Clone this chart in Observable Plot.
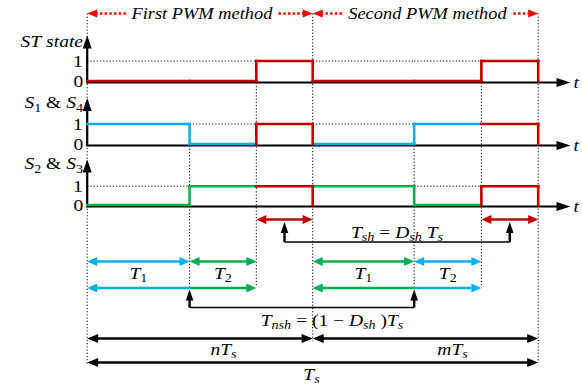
<!DOCTYPE html>
<html><head><meta charset="utf-8">
<script src="https://cdn.jsdelivr.net/npm/d3@7"></script>
<script src="https://cdn.jsdelivr.net/npm/@observablehq/plot@0.6"></script>
<style>html,body{margin:0;padding:0;background:#fff;}</style>
</head><body><div id="chart"></div>
<script>
// ---------------- data ----------------
// switching instants, as a fraction of the switching period Ts
const times = [0, 0.227, 0.375, 0.5, 0.725, 0.874, 1];
const methodLabels = ["First PWM method", "Second PWM method"];
const methodFrom = [0, 3];          // indexes into times
const methodTo = [3, 6];
const panelLabels = ["ST state", "S_{1} & S_{4}", "S_{2} & S_{3}"];
const levelLabels = ["0", "1"];
// per-interval logic level and which switching state owns the interval
const stLevels = [0, 0, 1, 0, 0, 1];
const stOwners = ["st", "st", "st", "st", "st", "st"];
const s14Levels = [1, 0, 1, 0, 1, 1];
const s14Owners = ["s14", "s14", "st", "s14", "s14", "st"];
const s23Levels = [0, 1, 1, 1, 0, 1];
const s23Owners = ["s23", "s23", "st", "s23", "s23", "st"];
const pulseIntervals = [2, 5];      // shoot-through intervals (index of start)
const shLabel = "T_{sh} = D_{sh} T_{s}";
const durationLabels = ["T_{1}", "T_{2}", "T_{1}", "T_{2}"];
const durationFrom = [0, 1, 3, 4];
const durationOwners = ["s14", "s23", "s23", "s14"];
const nshLabel = "T_{nsh} = (1 − D_{sh} )T_{s}";
const nshFrom = 1, nshTo = 4;
const periodLabels = ["nT_{s}", "mT_{s}"];
const periodFrom = [0, 3];
const periodTo = [3, 6];
const totalLabel = "T_{s}";
const axisLabel = "t";

// ---------------- layout / style ----------------
const W = 582, H = 387;
const X0 = 86.7, KX = 451;
const t = px => (px - X0) / KX;
const dx = px => px / KX;
const RED = "#c00000", BLUE = "#00b0f0", GREEN = "#00b050", HRED = "#ff0000";
const palette = {st: RED, s14: BLUE, s23: GREEN};
const FONT = 17;
const SERIF = "Liberation Serif";
const L = {
  header: 13,
  baselines: [82, 145, 206],
  highs: [60.5, 123.5, 185.7],
  axisTop: [35, 97.5, 159],
  labelBase: [46.5, 107.5, 168.5],
  axisEnd: t(570),
  tsh: 219, shBracket: 241.5, shText: 237, shTextX: t(396.5),
  row1: 261, rowText: 278, row2: 287.5, nshBracket: 307, nshText: 325, nshTextX: t(331.5),
  nTs: 338, nTsText: 354, periodTextX: [t(223), t(452)],
  Ts: 362, TsText: 379, TsTextX: t(311)
};

const signals = [
  {levels: stLevels, owners: stOwners},
  {levels: s14Levels, owners: s14Owners},
  {levels: s23Levels, owners: s23Owners}
];

// ---------------- geometry built from data ----------------
const sig = [];      // signal segments
const dots = [];     // dotted guides
signals.forEach((s, p) => {
  const base = L.baselines[p], hi = L.highs[p];
  const yl = v => v ? hi : base - 1.5;
  const n = s.levels.length;
  s.levels.forEach((v, i) => {
    sig.push({x1: times[i], x2: times[i + 1], y1: yl(v), y2: yl(v), c: palette[s.owners[i]]});
    if (v === 0) dots.push({x1: times[i], x2: times[i + 1], y1: hi, y2: hi});
    if (i > 0) {
      const vp = s.levels[i - 1], op = s.owners[i - 1], o = s.owners[i];
      if (op === "st" && o !== "st" && vp === 1)
        sig.push({x1: times[i], x2: times[i], y1: yl(1), y2: yl(0), c: RED});
      else if (v !== vp)
        sig.push({x1: times[i], x2: times[i], y1: yl(vp), y2: yl(v), c: palette[o]});
    }
  });
  if (s.levels[n - 1] === 1)
    sig.push({x1: times[n], x2: times[n], y1: yl(1), y2: yl(0), c: palette[s.owners[n - 1]]});
});
// vertical dotted guides
[[0, L.header, 363], [3, L.header, 340], [6, L.header, 362],
 [1, L.baselines[1], L.row2], [2, L.baselines[0], L.row2 - 2],
 [4, L.baselines[1], L.row2], [5, L.baselines[0], L.row2 - 2]]
  .forEach(([i, y1, y2]) => dots.push({x1: times[i], x2: times[i], y1, y2}));

const shafts = [];   // solid lines {x1,x2,y1,y2,c,w}
const tris = [];     // arrowhead polygons {id,x,y,c}
let triId = 0;
function head(x, y, dir, c, len = 10, hw = 4.5) {
  const id = triId++;
  let pts;
  if (dir === "right") pts = [[x, y], [x - dx(len), y - hw], [x - dx(len), y + hw]];
  else if (dir === "left") pts = [[x, y], [x + dx(len), y - hw], [x + dx(len), y + hw]];
  else pts = [[x, y], [x - dx(hw), y + len], [x + dx(hw), y + len]];
  pts.forEach(([px, py]) => tris.push({id, x: px, y: py, c}));
}
function hArrow(a, b, y, c, heads, w = 2.5, len = 10, hw = 4.5) {
  const l = heads === "both" || heads === "left", r = heads === "both" || heads === "right";
  shafts.push({x1: a + (l ? dx(len * 0.6) : 0), x2: b - (r ? dx(len * 0.6) : 0), y1: y, y2: y, c, w});
  if (l) head(a, y, "left", c, len, hw);
  if (r) head(b, y, "right", c, len, hw);
}
function upArrow(x, yTip, yBase, c) {
  shafts.push({x1: x, x2: x, y1: yTip + 6, y2: yBase, c, w: 2.5});
  head(x, yTip, "up", c, 11, 3.8);
}
// axes
const axisLines = [];
L.baselines.forEach((b, p) => {
  axisLines.push({x1: 0, x2: L.axisEnd - dx(8), y1: b, y2: b});
  axisLines.push({x1: 0, x2: 0, y1: b + 1, y2: L.axisTop[p] + 8});
  head(L.axisEnd, b, "right", "black", 14, 4.5);
  head(0, L.axisTop[p], "up", "black", 13, 4.5);
});
// header (red dotted)
const headerLines = [];
methodFrom.forEach((f, k) => {
  headerLines.push({x1: times[f] + dx(8), x2: times[methodTo[k]] - dx(8), y1: L.header, y2: L.header});
  head(times[f], L.header, "left", HRED, 10, 4);
  head(times[methodTo[k]], L.header, "right", HRED, 10, 4);
});
// shoot-through durations
const mid = (a, b) => (a + b) / 2;
pulseIntervals.forEach(i => {
  hArrow(times[i], times[i + 1], L.tsh, RED, "both");
  upArrow(mid(times[i], times[i + 1]), L.tsh + 2.5, L.shBracket, "black");
});
const mids = pulseIntervals.map(i => mid(times[i], times[i + 1]));
shafts.push({x1: mids[0], x2: mids[1], y1: L.shBracket, y2: L.shBracket, c: "black", w: 1.6});
// T1 / T2 durations
durationFrom.forEach((f, k) => {
  const c = palette[durationOwners[k]];
  hArrow(times[f], times[f + 1], L.row1, c, "both");
  hArrow(times[f], times[f + 1], L.row2, c, k % 2 === 0 ? "left" : "right");
});
upArrow(times[nshFrom], L.row2 + 1.5, L.nshBracket, "black");
upArrow(times[nshTo], L.row2 + 1.5, L.nshBracket, "black");
shafts.push({x1: times[nshFrom], x2: times[nshTo], y1: L.nshBracket, y2: L.nshBracket, c: "black", w: 1.6});
// periods
periodFrom.forEach((f, k) => hArrow(times[f], times[periodTo[k]], L.nTs, "black", "both", 2.5, 11, 4.5));
hArrow(times[0], times[6], L.Ts, "black", "both", 2.5, 11, 4.5);

// texts
const textsEnd = panelLabels.map((s, p) => ({x: t(82.5), y: L.labelBase[p], s}));
const tickTexts = [];
L.baselines.forEach((b, p) => {
  tickTexts.push({x: t(78), y: b - 1, s: levelLabels[0]});
  tickTexts.push({x: t(77.5), y: L.highs[p] + 0.5, s: levelLabels[1]});
});
const axisTexts = L.baselines.map(b => ({x: t(573), y: b, s: axisLabel}));
const headerTexts = methodLabels.map((s, k) => ({x: mid(times[methodFrom[k]], times[methodTo[k]]) + dx(2), y: L.header, s}));
const midTexts = [
  {x: L.shTextX, y: L.shText, s: shLabel},
  ...durationLabels.map((s, k) => ({x: mid(times[durationFrom[k]], times[durationFrom[k] + 1]), y: L.rowText, s})),
  {x: L.nshTextX, y: L.nshText, s: nshLabel},
  ...periodLabels.map((s, k) => ({x: L.periodTextX[k], y: L.nTsText, s})),
  {x: L.TsTextX, y: L.TsText, s: totalLabel}
];

const colorsUsed = [...new Set(tris.map(d => d.c))];

const chart = Plot.plot({
  width: W, height: H,
  marginTop: 0, marginRight: 0, marginBottom: 0, marginLeft: 0,
  x: {domain: [0, 1], range: [X0, X0 + KX], axis: null},
  y: {domain: [0, H], range: [0, H], axis: null},
  style: {background: "white", fontFamily: "'Liberation Serif','Times New Roman',serif", overflow: "visible"},
  marks: [
    Plot.link(dots, {x1: "x1", x2: "x2", y1: "y1", y2: "y2", stroke: "black", strokeWidth: 1, strokeDasharray: "1.2,2"}),
    Plot.link(headerLines, {x1: "x1", x2: "x2", y1: "y1", y2: "y2", stroke: HRED, strokeWidth: 2.5, strokeDasharray: "2.5,2.2", strokeLinecap: "butt"}),
    Plot.link(axisLines, {x1: "x1", x2: "x2", y1: "y1", y2: "y2", stroke: "black", strokeWidth: 2.2, strokeLinecap: "butt"}),
    Plot.link(sig, {x1: "x1", x2: "x2", y1: "y1", y2: "y2", stroke: d => d.c, strokeWidth: 2.6, strokeLinecap: "square"}),
    ...[2.5, 1.6].map(w => Plot.link(shafts.filter(d => d.w === w), {x1: "x1", x2: "x2", y1: "y1", y2: "y2", stroke: d => d.c, strokeWidth: w, strokeLinecap: "butt"})),
    ...colorsUsed.map(c => Plot.line(tris.filter(d => d.c === c), {x: "x", y: "y", z: "id", fill: c, stroke: "none"})),
    Plot.text(headerTexts, {x: "x", y: "y", text: "s", textAnchor: "middle", lineAnchor: "middle", fontSize: 16, fill: "black", stroke: "white", strokeWidth: 10}),
    Plot.text(textsEnd, {x: "x", y: "y", text: "s", textAnchor: "end", lineAnchor: "bottom", fontSize: FONT, fill: "black"}),
    Plot.text(tickTexts, {x: "x", y: "y", text: "s", textAnchor: "middle", lineAnchor: "middle", fontSize: FONT, fill: "black"}),
    Plot.text(axisTexts, {x: "x", y: "y", text: "s", textAnchor: "start", lineAnchor: "middle", fontSize: FONT, fill: "black"}),
    Plot.text(midTexts, {x: "x", y: "y", text: "s", textAnchor: "middle", lineAnchor: "bottom", fontSize: FONT, fill: "black"})
  ]
});
document.getElementById("chart").appendChild(chart);

// rich text: subscripts, italic letters, slight horizontal stretch like the original figure
const NS = "http://www.w3.org/2000/svg";
chart.querySelectorAll("text").forEach(el => {
  const s = el.textContent;
  const parts = [];
  const re = /_\{([^}]*)\}/g;
  let last = 0, m;
  while ((m = re.exec(s))) {
    if (m.index > last) parts.push({t: s.slice(last, m.index), sub: false});
    parts.push({t: m[1], sub: true});
    last = re.lastIndex;
  }
  if (last < s.length) parts.push({t: s.slice(last), sub: false});
  while (el.firstChild) el.removeChild(el.firstChild);
  el.setAttribute("font-family", SERIF);
  let shifted = false;
  parts.forEach(p => {
    const runs = p.t.match(/[A-Za-z]+|[^A-Za-z]+/g) || [];
    runs.forEach((r, k) => {
      const ts = document.createElementNS(NS, "tspan");
      ts.textContent = r;
      ts.setAttribute("font-family", SERIF);
      ts.setAttribute("font-style", /[A-Za-z]/.test(r) ? "italic" : "normal");
      if (p.sub) ts.setAttribute("font-size", "72%");
      if (k === 0) {
        if (p.sub && !shifted) { ts.setAttribute("dy", "3.5"); shifted = true; }
        else if (!p.sub && shifted) { ts.setAttribute("dy", "-3.5"); shifted = false; }
      }
      el.appendChild(ts);
    });
  });
  el.setAttribute("xml:space", "preserve");
  const tr = el.getAttribute("transform");
  if (tr) el.setAttribute("transform", tr + " scale(1.15,1)");
  else {
    const x = +el.getAttribute("x") || 0, y = +el.getAttribute("y") || 0;
    el.setAttribute("transform", `translate(${x},${y}) scale(1.15,1) translate(${-x},${-y})`);
  }
});
</script>
</body></html>
